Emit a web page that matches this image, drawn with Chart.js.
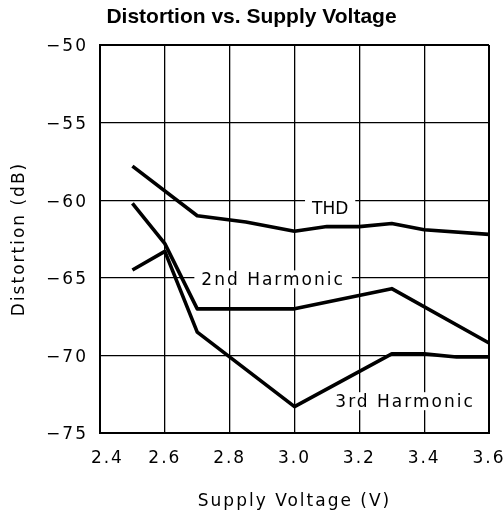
<!DOCTYPE html>
<html>
<head>
<meta charset="utf-8">
<script src="https://cdn.jsdelivr.net/npm/chart.js@4.4.0/dist/chart.umd.min.js"></script>
<style>
  html, body { margin: 0; padding: 0; background: #fff; }
  #wrap { width: 503px; height: 520px; }
</style>
</head>
<body>
<div id="wrap"><canvas id="myChart" width="503" height="520"></canvas></div>
<script>
'use strict';
// chart data
const chartTitle = 'Distortion vs. Supply Voltage';
const xTitle = 'Supply Voltage (V)';
const yTitle = 'Distortion (dB)';

const thdVolts = [2.5, 2.7, 2.85, 3.0, 3.1, 3.2, 3.3, 3.4, 3.6];
const thdDb = [-57.8, -61.0, -61.4, -62.0, -61.7, -61.7, -61.5, -61.9, -62.2];

const h2Volts = [2.5, 2.6, 2.7, 3.0, 3.3, 3.6];
const h2Db = [-60.2, -62.8, -67.0, -67.0, -65.7, -69.2];

const h3Volts = [2.5, 2.6, 2.7, 3.0, 3.3, 3.4, 3.5, 3.6];
const h3Db = [-64.5, -63.3, -68.5, -73.3, -69.9, -69.9, -70.1, -70.1];

// axis ranges and tick steps
const xMin = 2.4, xMax = 3.6, xStep = 0.2;
const yMin = -75, yMax = -50, yStep = 5;

// curve labels (text, voltage, dB)
const curveLabels = [
  { text: 'THD', x: 3.11, y: -60.55 },
  { text: '2nd Harmonic', x: 2.934, y: -65.1 },
  { text: '3rd Harmonic', x: 3.341, y: -72.95 },
];

const AXIS_FONT = 'DejaVu Sans, sans-serif';
const TITLE_FONT = 'Liberation Sans, Arial, sans-serif';
const SPACING = '2px';

function toPoints(xs, ys) {
  const pts = [];
  for (let i = 0; i < xs.length; i++) {
    pts.push({ x: xs[i], y: ys[i] });
  }
  return pts;
}

function curve(label, xs, ys) {
  return {
    label: label,
    data: toPoints(xs, ys),
    borderColor: '#000',
    borderWidth: 3.6,
    borderJoinStyle: 'round',
    pointRadius: 0,
    tension: 0,
    fill: false,
  };
}

// letter spacing for tick and axis text, like the original plot font
const spacingPlugin = {
  id: 'spacing',
  beforeLayout(chart) { chart.ctx.letterSpacing = SPACING; },
  beforeDraw(chart) { chart.ctx.letterSpacing = SPACING; },
  afterDraw(chart) {
    const ctx = chart.ctx;
    const xs = chart.scales.x;
    const ys = chart.scales.y;
    ctx.save();
    // labels on the curves with a white box behind
    ctx.font = '17px ' + AXIS_FONT;
    ctx.textAlign = 'center';
    ctx.textBaseline = 'middle';
    curveLabels.forEach(function (l) {
      ctx.letterSpacing = l.text === 'THD' ? '0px' : SPACING;
      const px = xs.getPixelForValue(l.x);
      const py = ys.getPixelForValue(l.y);
      const w = ctx.measureText(l.text).width;
      ctx.fillStyle = '#fff';
      ctx.fillRect(px - w / 2 - 7, py - 9, w + 14, 18);
      ctx.fillStyle = '#000';
      ctx.fillText(l.text, px, py + 1);
    });
    // chart title
    ctx.letterSpacing = '0px';
    ctx.font = 'bold 21px ' + TITLE_FONT;
    ctx.fillText(chartTitle, chart.width / 2, 17);
    ctx.restore();
  },
};

function edgeWidth(ctx) {
  const ticks = ctx.scale.ticks;
  if (ctx.index === 0 || ctx.index === ticks.length - 1) {
    return 2;
  }
  return 1.3;
}

const ctx = document.getElementById('myChart').getContext('2d');
new Chart(ctx, {
  type: 'line',
  data: {
    datasets: [
      curve('THD', thdVolts, thdDb),
      curve('2nd Harmonic', h2Volts, h2Db),
      curve('3rd Harmonic', h3Volts, h3Db),
    ],
  },
  options: {
    responsive: false,
    animation: false,
    devicePixelRatio: 1,
    layout: { padding: { left: 0, right: 14, top: 45, bottom: 0 } },
    plugins: {
      legend: { display: false },
      title: { display: false },
      tooltip: { enabled: false },
    },
    scales: {
      x: {
        type: 'linear',
        min: xMin,
        max: xMax,
        afterFit(s) { s.height = 87; s.paddingLeft = 0; s.paddingRight = 0; },
        ticks: {
          stepSize: xStep,
          color: '#000',
          padding: 15,
          maxRotation: 0,
          font: { family: AXIS_FONT, size: 17 },
          // first label sits a little right of its gridline, clear of -75
          callback: (v, i) => (i === 0 ? '  ' : '') + Number(v).toFixed(1),
        },
        grid: { color: '#000', lineWidth: edgeWidth, drawTicks: false },
        border: { display: true, color: '#000', width: 2 },
        title: {
          display: true,
          text: xTitle,
          color: '#000',
          font: { family: AXIS_FONT, size: 17 },
          padding: { top: 0, bottom: 8 },
        },
      },
      y: {
        type: 'linear',
        min: yMin,
        max: yMax,
        afterFit(s) { s.width = 100; },
        ticks: {
          stepSize: yStep,
          color: '#000',
          padding: 12,
          labelOffset: 2,
          font: { family: AXIS_FONT, size: 17 },
          callback: (v) => (v < 0 ? '\u2212' : '') + Math.abs(v),
        },
        grid: { color: '#000', lineWidth: edgeWidth, drawTicks: false },
        border: { display: true, color: '#000', width: 2 },
        title: {
          display: true,
          text: yTitle,
          color: '#000',
          font: { family: AXIS_FONT, size: 17 },
          padding: { top: 9, bottom: 0 },
        },
      },
    },
  },
  plugins: [spacingPlugin],
});
</script>
</body>
</html>
